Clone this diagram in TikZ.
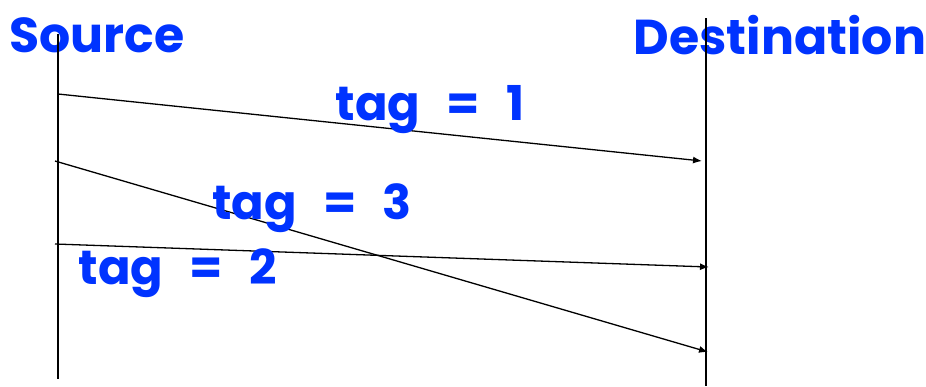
\documentclass[tikz,border=0pt]{standalone}
\usepackage{fontspec}
\setmainfont{Poppins}
\usepackage{xcolor}
\usetikzlibrary{arrows.meta,positioning}
\definecolor{tagblue}{HTML}{0033FF}
\definecolor{ink}{HTML}{000000}
\newcommand{\tagtext}[1]{tag\hspace{0.55em}=\hspace{0.55em}#1}
\tikzset{
  hostlabel/.style={text=tagblue, font=\fontsize{49}{51}\selectfont\bfseries, inner sep=0pt},
  taglabel/.style={text=tagblue, font=\fontsize{48}{50}\selectfont\bfseries, inner sep=0pt},
  timeline/.style={draw=ink, line width=1.4pt},
  msg/.style={draw=ink, line width=1.3pt, -{Latex[length=9pt,width=7pt]}}
}

\begin{document}
\begin{tikzpicture}[x=1pt, y=-1pt]
  \useasboundingbox (0,0) rectangle (926,386);
  % hosts
  \node[hostlabel] (src) at (97,35) {Source};
  \node[hostlabel] (dst) at (780,35) {Destination};
  % time lines
  \coordinate (srcTop) at (58,34);
  \coordinate (srcBot) at (58,379);
  \coordinate (dstTop) at (706,18);
  \coordinate (dstBot) at (706,386);
  \draw[timeline] (srcTop) -- (srcBot);
  \draw[timeline] (dstTop) -- (dstBot);
  % messages
  \coordinate (m1s) at (58,94);   \coordinate (m1e) at (702,161);
  \coordinate (m3s) at (55,161);  \coordinate (m3e) at (708,352);
  \coordinate (m2s) at (55,244);  \coordinate (m2e) at (709,267);
  \draw[msg] (m1s) -- (m1e);
  \draw[msg] (m3s) -- (m3e);
  \draw[msg] (m2s) -- (m2e);
  % tags
  \node[taglabel] (tag1) at (430,110) {\tagtext{1}};
  \node[taglabel] (tag3) at (312,208) {\tagtext{3}};
  \node[taglabel] (tag2) at (178,273) {\tagtext{2}};
\end{tikzpicture}
\end{document}
